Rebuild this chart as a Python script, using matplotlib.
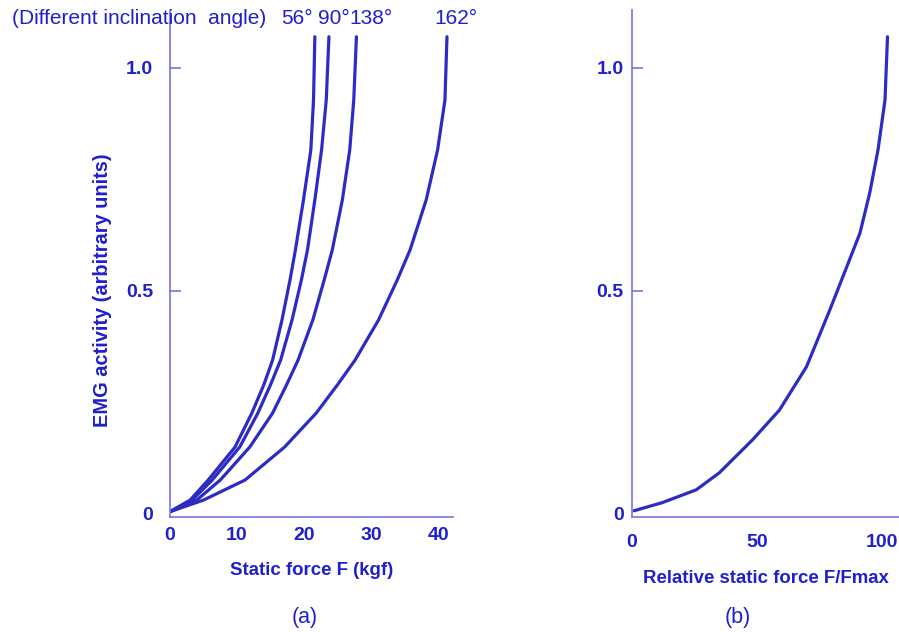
import numpy as np
import matplotlib
matplotlib.use("Agg")
import matplotlib.pyplot as plt

plt.rcParams['font.family'] = ['Liberation Sans', 'DejaVu Sans']

# (a) EMG activity vs static force, one curve per inclination angle
angle_labels = ['56°', '90°', '138°', '162°']
emg_levels = [0.005, 0.031, 0.076, 0.150, 0.226, 0.290, 0.345, 0.435, 0.525, 0.592, 0.704, 0.816, 0.928, 1.07]
force_56 = [0.0, 3.0, 5.7, 9.7, 12.2, 14.0, 15.3, 16.7, 17.9, 18.7, 19.9, 21.0, 21.4, 21.6]
force_90 = [0.0, 3.3, 6.3, 10.4, 13.1, 15.0, 16.5, 18.2, 19.6, 20.5, 21.6, 22.6, 23.3, 23.7]
force_138 = [0.0, 4.0, 7.5, 11.9, 15.3, 17.4, 19.1, 21.3, 23.0, 24.2, 25.7, 26.8, 27.4, 27.8]
force_162 = [0.0, 5.0, 11.2, 17.1, 21.8, 25.0, 27.6, 31.1, 33.9, 35.8, 38.2, 39.9, 41.0, 41.3]

# (b) EMG activity vs relative force
rel_force = [0.8, 12.0, 25.7, 34.9, 48.2, 59.0, 69.8, 79.1, 85.9, 91.2, 95.1, 98.4, 101.2, 102.2]
rel_emg = [0.007, 0.025, 0.054, 0.092, 0.166, 0.233, 0.330, 0.457, 0.554, 0.630, 0.720, 0.816, 0.928, 1.07]

line_col = '#2c2cc4'
axis_col = '#7474e4'
text_col = '#1f1fcc'

fig = plt.figure(figsize=(8.99, 6.32), dpi=100)
ax1 = fig.add_axes([170/899, 1-517/632, 283/899, 507/632])
ax2 = fig.add_axes([632/899, 1-517/632, 267/899, 507/632])

for f in [force_56, force_90, force_138, force_162]:
    ax1.plot(f, emg_levels, color=line_col, lw=2.3, solid_capstyle='round', solid_joinstyle='round')
ax2.plot(rel_force, rel_emg, color=line_col, lw=2.3, solid_capstyle='round', solid_joinstyle='round')

ax1.set_xlim(0, 42.2)
ax2.set_xlim(0, 106.8)
for ax, pad in [(ax1, 12), (ax2, 6)]:
    ax.set_ylim(-0.007, 1.13)
    for s in ['top', 'right']:
        ax.spines[s].set_visible(False)
    for s in ['left', 'bottom']:
        ax.spines[s].set_color(axis_col)
        ax.spines[s].set_linewidth(1.2)
    ax.set_yticks([0, 0.5, 1.0])
    ax.set_yticklabels(['0', '0.5', '1.0'])
    ax.tick_params(axis='y', direction='in', length=8, width=1.2, color=axis_col,
                   pad=pad, labelsize=14, labelcolor=text_col)
    ax.tick_params(axis='x', length=0, pad=7, labelsize=14, labelcolor=text_col)

ax1.set_xticks([0, 10, 20, 30, 40])
ax2.set_xticks([0, 50, 100])
ax2.tick_params(axis='x', pad=12)
for ax in (ax1, ax2):
    for lab in ax.get_xticklabels() + ax.get_yticklabels():
        lab.set_fontweight('bold')
    # no visible tick mark at the origin
    ax.yaxis.get_major_ticks()[0].tick1line.set_visible(False)

ax1.set_xlabel('Static force F (kgf)', fontsize=13.4, fontweight='bold', color=text_col, labelpad=13)
ax2.set_xlabel('Relative static force F/Fmax', fontsize=13.4, fontweight='bold', color=text_col, labelpad=14)
ax1.set_ylabel('EMG activity (arbitrary units)', fontsize=14.4, fontweight='bold', color=text_col)
ax1.yaxis.set_label_coords(-0.205, 0.448)

# angle labels above the curves
for lab, xpos in zip(angle_labels, [19.0, 24.5, 29.9, 42.7]):
    ax1.text(xpos, 1.112, lab, ha='center', va='center', fontsize=15, color=text_col, clip_on=False)

fig.text(12/899, 1-18/632, '(Different inclination  angle)', ha='left', va='center',
         fontsize=15, color=text_col)
fig.text(305/899, 1-617/632, '(a)', ha='center', va='center', fontsize=15.5, color=text_col)
fig.text(738/899, 1-617/632, '(b)', ha='center', va='center', fontsize=15.5, color=text_col)

fig.savefig('out.png', dpi=100, facecolor='white')
